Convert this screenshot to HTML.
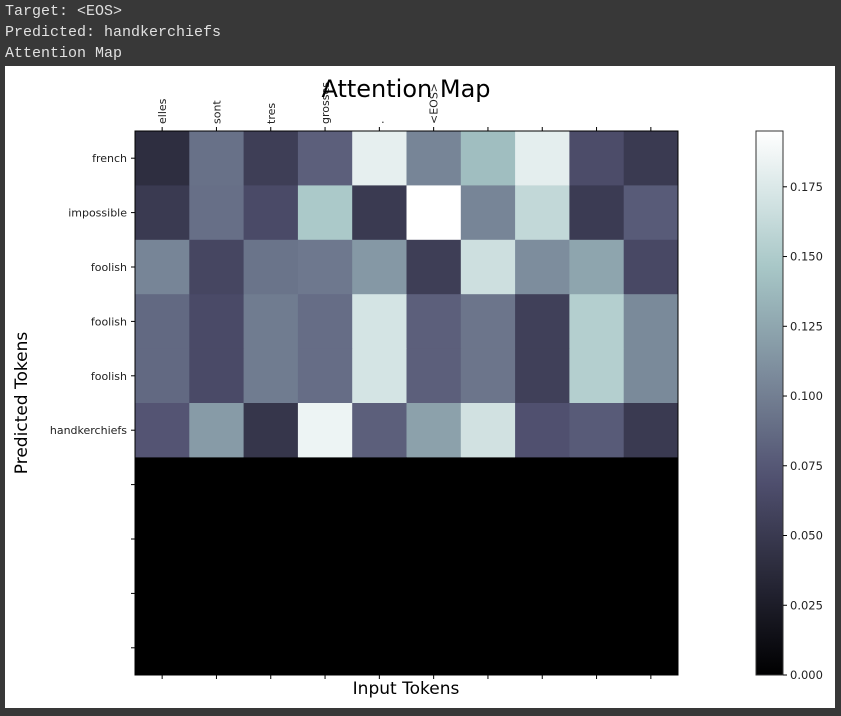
<!DOCTYPE html>
<html><head><meta charset="utf-8"><style>
html,body{margin:0;padding:0;background:#383838;width:841px;height:716px;overflow:hidden}
.out{position:absolute;left:5px;font-family:"Liberation Mono","DejaVu Sans Mono",monospace;font-size:15px;color:#e0e0e0;white-space:pre}
#fig{position:absolute;left:5px;top:66px;width:830px;height:642px;background:#fff}
svg{position:absolute;left:0;top:0}
text{font-family:"DejaVu Sans","Liberation Sans",sans-serif}
</style></head><body>
<div class="out" style="top:3px">Target: &lt;EOS&gt;</div>
<div class="out" style="top:24px">Predicted: handkerchiefs</div>
<div class="out" style="top:45px">Attention Map</div>
<div id="fig"></div>
<svg id="chart" width="841" height="716" xmlns="http://www.w3.org/2000/svg"></svg>
<script>
const xLabels = ["elles","sont","tres","grosses",".","<EOS>","","","",""];
const yLabels = ["french","impossible","foolish","foolish","foolish","handkerchiefs","","","",""];
const row0 = [0.040,0.091,0.054,0.080,0.181,0.104,0.140,0.180,0.066,0.051];
const row1 = [0.051,0.090,0.065,0.148,0.051,0.195,0.104,0.161,0.052,0.077];
const row2 = [0.104,0.061,0.093,0.096,0.116,0.054,0.167,0.109,0.124,0.063];
const row3 = [0.086,0.065,0.098,0.089,0.171,0.080,0.094,0.056,0.153,0.107];
const row4 = [0.086,0.065,0.098,0.089,0.171,0.080,0.094,0.056,0.153,0.107];
const row5 = [0.073,0.118,0.047,0.185,0.080,0.122,0.169,0.070,0.077,0.051];
const row6 = [0,0,0,0,0,0,0,0,0,0];
const row7 = [0,0,0,0,0,0,0,0,0,0];
const row8 = [0,0,0,0,0,0,0,0,0,0];
const row9 = [0,0,0,0,0,0,0,0,0,0];
const rows = [row0,row1,row2,row3,row4,row5,row6,row7,row8,row9];
const cbTicks = [0,0.025,0.05,0.075,0.1,0.125,0.15,0.175];
const cbTickLabels = ["0.000","0.025","0.050","0.075","0.100","0.125","0.150","0.175"];
const vmax = 0.195;

const NS="http://www.w3.org/2000/svg";
const svg=document.getElementById('chart');
function el(t,a,txt){const e=document.createElementNS(NS,t);for(const k in a)e.setAttribute(k,a[k]);if(txt!==undefined)e.textContent=txt;svg.appendChild(e);return e;}
function interp(pts,f){for(let i=1;i<pts.length;i++){if(f<=pts[i][0]){const a=pts[i-1],b=pts[i];return a[1]+(b[1]-a[1])*(f-a[0])/(b[0]-a[0]);}}return pts[pts.length-1][1];}
function bone(f){f=Math.max(0,Math.min(1,f));
 const r=interp([[0,0],[0.746032,0.652778],[1,1]],f);
 const g=interp([[0,0],[0.365079,0.319444],[0.746032,0.777778],[1,1]],f);
 const b=interp([[0,0],[0.365079,0.444444],[1,1]],f);
 return `rgb(${Math.round(r*255)},${Math.round(g*255)},${Math.round(b*255)})`;}
const X0=135,X1=678,Y0=131,Y1=675;
const cw=(X1-X0)/xLabels.length, ch=(Y1-Y0)/rows.length;
const xc=i=>X0+cw*(i+0.5), yc=j=>Y0+ch*(j+0.5);

rows.forEach((r,j)=>r.forEach((v,i)=>{
  const c=el('rect',{x:X0+cw*i,y:Y0+ch*j,width:cw+0.5,height:ch+0.5,fill:bone(v/vmax)});
  
  
}));
const fr=el('rect',{x:X0,y:Y0,width:X1-X0,height:Y1-Y0,fill:'none',stroke:'#000','stroke-width':1});



xLabels.forEach((l,i)=>{
  el('line',{x1:xc(i),x2:xc(i),y1:Y0,y2:Y0-4,stroke:'#000'});
  el('line',{x1:xc(i),x2:xc(i),y1:Y1,y2:Y1+4,stroke:'#000'});
  if(l){const t=el('text',{x:0,y:0,transform:`translate(${xc(i)+4},${Y0-7}) rotate(-90)`,'font-size':11,fill:'#222'},l);
  
  }
});
yLabels.forEach((l,j)=>{
  el('line',{x1:X0,x2:X0-4,y1:yc(j),y2:yc(j),stroke:'#000'});
  if(l){const t=el('text',{x:X0-8,y:yc(j)+4,'text-anchor':'end','font-size':11,fill:'#222'},l);
  
  }
});
const title=el('text',{x:406,y:97,'text-anchor':'middle','font-size':24,fill:'#000'},'Attention Map');


const xt=el('text',{x:406,y:694,'text-anchor':'middle','font-size':17,fill:'#000'},'Input Tokens');


const yt=el('text',{x:0,y:0,transform:'translate(27,403) rotate(-90)','text-anchor':'middle','font-size':17,fill:'#000'},'Predicted Tokens');



// colorbar
const CX=756,CW=27,CY0=131,CY1=675;
const defs=el('defs',{});
const lg=document.createElementNS(NS,'linearGradient');lg.setAttribute('id','cbg');lg.setAttribute('x1','0');lg.setAttribute('y1','1');lg.setAttribute('x2','0');lg.setAttribute('y2','0');
for(let k=0;k<=20;k++){const s=document.createElementNS(NS,'stop');s.setAttribute('offset',k/20);s.setAttribute('stop-color',bone(k/20));lg.appendChild(s);}
defs.appendChild(lg);
const cb=el('rect',{x:CX,y:CY0,width:CW,height:CY1-CY0,fill:'url(#cbg)',stroke:'#333','stroke-width':1});


const cy=v=>CY1-(v/vmax)*(CY1-CY0);
cbTicks.forEach((v,k)=>{
  el('line',{x1:CX+CW,x2:CX+CW+4,y1:cy(v),y2:cy(v),stroke:'#000'});
  const t=el('text',{x:CX+CW+7,y:cy(v)+4,'font-size':11.5,fill:'#222'},cbTickLabels[k]);
  
  
});
</script>
</body></html>
